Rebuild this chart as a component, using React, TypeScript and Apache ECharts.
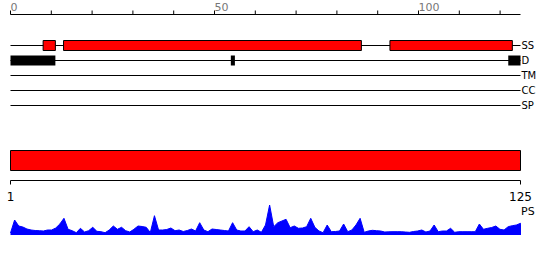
import React, { useEffect, useRef } from "react";
import * as echarts from "echarts";

const SEQ_LENGTH = 125;
const trackNames = ["SS", "D", "TM", "CC", "SP"];
const topTickValues = [0, 10, 20, 30, 40, 50, 60, 70, 80, 90, 100, 110, 120];
const topLabelValues = [0, 50, 100];
const bottomLabelValues = [1, 125];
// secondary structure segments [start, end] (track 1)
const ssSegments: [number, number][] = [
  [8, 11],
  [13, 86],
  [93, 123],
];
// disorder segments [start, end] (track 2)
const disorderSegments: [number, number][] = [
  [0, 11],
  [54, 55],
  [122, 125],
];
// PS profile, one value per residue 1..125
const psValues = [
  2, 15, 9, 8, 6, 5, 4.5, 4.3, 4, 5,
  5, 7, 11, 16.7, 5.7, 4.3, 2.3, 6.7, 3, 4.3,
  7.7, 3.7, 3.3, 2.3, 5, 9, 5.7, 7.7, 4.3, 3,
  5.7, 9, 8.5, 7.7, 2.5, 19.3, 5, 5, 5.5, 7,
  4.3, 5, 3.5, 4.5, 6, 4, 12.3, 5, 3.3, 6,
  5.5, 5, 4.5, 4, 12.3, 5, 4, 4, 8.3, 3.3,
  5, 2.7, 10, 30, 8.3, 12.3, 14, 15.7, 7.3, 9,
  6.7, 7, 8.3, 16.7, 7.7, 4, 2.3, 10, 3.3, 3.5,
  4, 11, 3.3, 5, 10, 16.7, 2.7, 4, 4.7, 4.3,
  4, 3, 3.2, 3.3, 3.3, 3.3, 3, 2.7, 3.5, 4,
  5, 3, 4, 10, 3.3, 4, 4, 6.7, 2.7, 3.3,
  3.3, 3.3, 3.3, 3.3, 11, 5.7, 6.7, 7.5, 9, 5.7,
  5, 8.3, 9.3, 10, 11.7,
];
const psTail: [number, number][] = [
  [125.8, 0],
  [129.7, 0],
];
const PS_MAX = 30;

const FONT = "DejaVu Sans";
const TOP_AXIS_OFFSET = 16;
const BOTTOM_AXIS_OFFSET = 10;
const TICK_LEN = 4;

export default function App() {
  const ref = useRef<HTMLDivElement>(null);

  useEffect(() => {
    if (!ref.current) return;
    const chart = echarts.init(ref.current, null, { renderer: "svg" });

    const boxRender = (fill: string, stroke: string | null) => (params: any, api: any) => {
      const start = api.value(0);
      const end = api.value(1);
      const idx = api.value(2);
      const p0 = api.coord([start, idx]);
      const p1 = api.coord([end, idx]);
      return {
        type: "rect",
        shape: { x: p0[0], y: p0[1] - 5, width: p1[0] - p0[0], height: 10 },
        style: stroke ? { fill, stroke, lineWidth: 1 } : { fill },
      };
    };

    // axis line (horizontal) drawn at a fixed offset from the grid edge
    const axisLineRender = (side: "top" | "bottom", offset: number) => (params: any, api: any) => {
      const cs = params.coordSys;
      const y = side === "top" ? cs.y - offset : cs.y + cs.height + offset;
      const x0 = api.coord([api.value(0), 0])[0];
      const x1 = api.coord([api.value(1), 0])[0];
      return {
        type: "line",
        shape: { x1: x0, y1: y, x2: x1, y2: y },
        style: { stroke: "#000", lineWidth: 1 },
      };
    };
    const axisTickRender = (side: "top" | "bottom", offset: number) => (params: any, api: any) => {
      const cs = params.coordSys;
      const y = side === "top" ? cs.y - offset : cs.y + cs.height + offset;
      const x = api.coord([api.value(0), 0])[0];
      const y2 = side === "top" ? y - TICK_LEN : y + TICK_LEN;
      return {
        type: "line",
        shape: { x1: x, y1: y, x2: x, y2 },
        style: { stroke: "#000", lineWidth: 1 },
      };
    };

    const option: any = {
      animation: false,
      textStyle: { fontFamily: FONT },
      grid: [
        { left: 10.5, width: 510, top: 30.5, height: 90 },
        { left: 10.5, width: 510, top: 150.5, height: 20 },
        { left: 10.5, width: 510, top: 205, height: 30 },
      ],
      xAxis: [
        {
          gridIndex: 0,
          type: "value",
          position: "top",
          offset: TOP_AXIS_OFFSET,
          min: 0,
          max: SEQ_LENGTH,
          axisLine: { show: false, onZero: false },
          axisTick: { show: false },
          axisLabel: {
            customValues: topLabelValues,
            align: "left",
            margin: 2,
            fontSize: 11,
            color: "#777",
            fontFamily: FONT,
          },
          splitLine: { show: false },
        },
        {
          gridIndex: 1,
          type: "value",
          position: "bottom",
          offset: BOTTOM_AXIS_OFFSET,
          min: 1,
          max: SEQ_LENGTH,
          axisLine: { show: false, onZero: false },
          axisTick: { show: false },
          axisLabel: {
            customValues: bottomLabelValues,
            margin: 10,
            fontSize: 12,
            color: "#000",
            fontFamily: FONT,
          },
          splitLine: { show: false },
        },
        {
          gridIndex: 2,
          type: "value",
          min: 1,
          max: SEQ_LENGTH,
          show: false,
        },
      ],
      yAxis: [
        {
          gridIndex: 0,
          type: "value",
          position: "right",
          min: 0,
          max: 6,
          inverse: true,
          axisLine: { show: false },
          axisTick: { show: false },
          splitLine: { show: false },
          axisLabel: {
            customValues: trackNames.map((_, i) => i + 1),
            formatter: (v: number) => trackNames[v - 1] ?? "",
            margin: 1,
            align: "left",
            fontSize: 10,
            color: "#000",
            fontFamily: FONT,
          },
        },
        { gridIndex: 1, type: "value", min: 0, max: 1, show: false },
        { gridIndex: 2, type: "value", min: 0, max: PS_MAX, show: false },
      ],
      graphic: [
        {
          type: "text",
          x: 521,
          y: 206,
          style: { text: "PS", fontSize: 11, fill: "#000", fontFamily: FONT },
        },
      ],
      series: [
        {
          type: "custom",
          name: "topAxisLine",
          xAxisIndex: 0,
          yAxisIndex: 0,
          data: [[0, SEQ_LENGTH]],
          renderItem: axisLineRender("top", TOP_AXIS_OFFSET),
          clip: false,
          silent: true,
        },
        {
          type: "custom",
          name: "topAxisTicks",
          xAxisIndex: 0,
          yAxisIndex: 0,
          data: topTickValues.map((v) => [v]),
          renderItem: axisTickRender("top", TOP_AXIS_OFFSET),
          clip: false,
          silent: true,
        },
        {
          type: "custom",
          name: "tracks",
          xAxisIndex: 0,
          yAxisIndex: 0,
          data: trackNames.map((_, i) => [0, SEQ_LENGTH, i + 1]),
          renderItem: (params: any, api: any) => {
            const p0 = api.coord([api.value(0), api.value(2)]);
            const p1 = api.coord([api.value(1), api.value(2)]);
            return {
              type: "line",
              shape: { x1: p0[0], y1: p0[1], x2: p1[0], y2: p1[1] },
              style: { stroke: "#000", lineWidth: 1 },
            };
          },
          silent: true,
        },
        {
          type: "custom",
          name: "SS",
          xAxisIndex: 0,
          yAxisIndex: 0,
          data: ssSegments.map((s) => [s[0], s[1], 1]),
          renderItem: boxRender("#ff0000", "#000"),
          silent: true,
        },
        {
          type: "custom",
          name: "D",
          xAxisIndex: 0,
          yAxisIndex: 0,
          data: disorderSegments.map((s) => [s[0], s[1], 2]),
          renderItem: boxRender("#000", null),
          silent: true,
        },
        {
          type: "custom",
          name: "bar",
          xAxisIndex: 1,
          yAxisIndex: 1,
          data: [[1, SEQ_LENGTH]],
          renderItem: (params: any, api: any) => {
            const p0 = api.coord([api.value(0), 1]);
            const p1 = api.coord([api.value(1), 0]);
            return {
              type: "rect",
              shape: { x: p0[0], y: p0[1], width: p1[0] - p0[0], height: p1[1] - p0[1] },
              style: { fill: "#ff0000", stroke: "#000", lineWidth: 1 },
            };
          },
          silent: true,
        },
        {
          type: "custom",
          name: "bottomAxisLine",
          xAxisIndex: 1,
          yAxisIndex: 1,
          data: [[1, SEQ_LENGTH]],
          renderItem: axisLineRender("bottom", BOTTOM_AXIS_OFFSET),
          clip: false,
          silent: true,
        },
        {
          type: "custom",
          name: "bottomAxisTicks",
          xAxisIndex: 1,
          yAxisIndex: 1,
          data: bottomLabelValues.map((v) => [v]),
          renderItem: axisTickRender("bottom", BOTTOM_AXIS_OFFSET),
          clip: false,
          silent: true,
        },
        {
          type: "line",
          name: "PS",
          xAxisIndex: 2,
          yAxisIndex: 2,
          data: [...psValues.map((v, i) => [i + 1, v]), ...psTail],
          symbol: "none",
          clip: false,
          lineStyle: { color: "#0000ff", width: 1 },
          areaStyle: { color: "#0000ff", opacity: 1 },
          silent: true,
        },
      ],
    };

    chart.setOption(option);
    return () => chart.dispose();
  }, []);

  return (
    <div
      ref={ref}
      style={{ position: "fixed", left: 0, top: 0, width: 550, height: 260, background: "#fff" }}
    />
  );
}
